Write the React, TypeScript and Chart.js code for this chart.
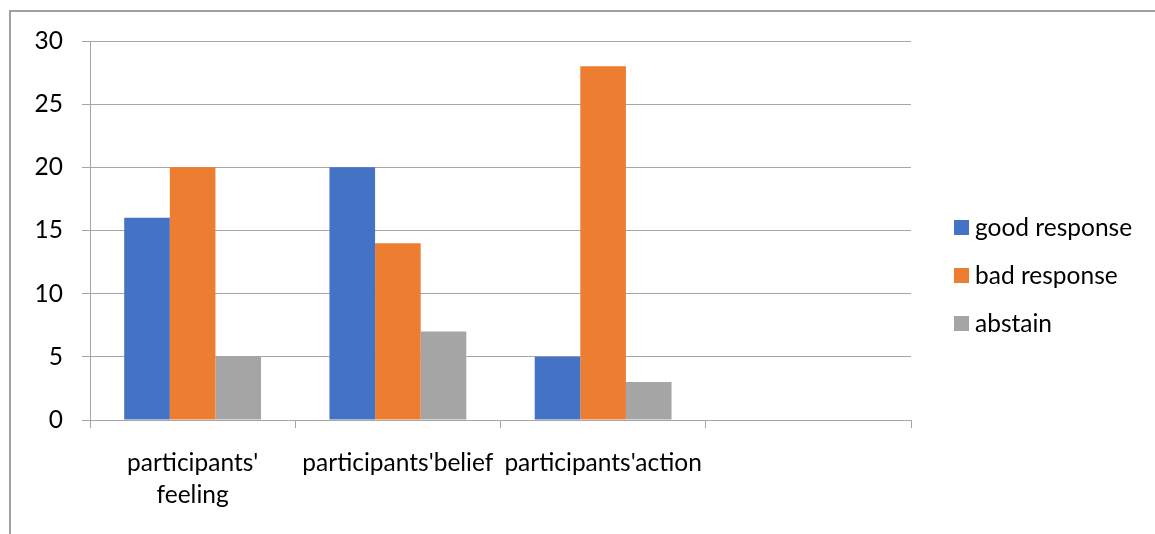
import React, { useEffect, useRef } from "react";
import { Chart, registerables } from "chart.js";

Chart.register(...registerables);

const categories: (string | string[])[] = [["participants'", "feeling"], "participants'belief", "participants'action", ""];
const goodResponse = [16, 20, 5, null];
const badResponse = [20, 14, 28, null];
const abstain = [5, 7, 3, null];
const seriesLabels = ["good response", "bad response", "abstain"];
const seriesColors = ["#4472C4", "#ED7D31", "#A5A5A5"];
const yTicks = [0, 5, 10, 15, 20, 25, 30];

const FONT = "Lato";
const FS = 24.5;
const GRID = "#a6a6a6";

const legendPlugin = {
  id: "sideLegend",
  afterDraw(chart: any) {
    const ctx = chart.ctx;
    const ds = chart.data.datasets;
    ctx.save();
    ctx.font = `${FS}px ${FONT}`;
    ctx.textBaseline = "middle";
    ctx.textAlign = "left";
    const x0 = chart.chartArea.right + 43;
    const yMid = (chart.chartArea.top + chart.chartArea.bottom) / 2;
    const gap = 48;
    const startY = yMid - gap * (ds.length - 1) / 2 + 45;
    ds.forEach((d: any, i: number) => {
      const y = startY + i * gap;
      ctx.fillStyle = d.backgroundColor;
      ctx.fillRect(x0, y - 7.5, 15, 15);
      ctx.fillStyle = "#000";
      ctx.fillText(d.label, x0 + 21, y + 1);
    });
    ctx.restore();
  },
};

export default function App() {
  const ref = useRef<HTMLCanvasElement | null>(null);
  useEffect(() => {
    if (!ref.current) return;
    const chart = new Chart(ref.current, {
      type: "bar",
      data: {
        labels: categories,
        datasets: [goodResponse, badResponse, abstain].map((data, i) => ({
          label: seriesLabels[i],
          data,
          backgroundColor: seriesColors[i],
          borderWidth: 0,
          categoryPercentage: 2 / 3,
          barPercentage: 1,
        })),
      },
      options: {
        animation: false,
        responsive: false,
        maintainAspectRatio: false,
        layout: { padding: { left: 0, top: 41, right: 244, bottom: 0 } },
        plugins: { legend: { display: false }, tooltip: { enabled: false } },
        scales: {
          x: {
            grid: { offset: true, drawOnChartArea: false, drawTicks: true, tickLength: 8, color: GRID, lineWidth: 1 },
            border: { display: true, color: GRID, width: 1 },
            ticks: { color: "#000", font: { family: FONT, size: FS, lineHeight: 32 / FS }, padding: 19, maxRotation: 0, autoSkip: false },
            afterFit(scale: any) { scale.height = 114; },
          },
          y: {
            min: 0,
            max: 30,
            afterBuildTicks(scale: any) { scale.ticks = yTicks.map((v) => ({ value: v })); },
            grid: { color: GRID, lineWidth: 1, tickLength: 8, drawTicks: true },
            border: { display: true, color: GRID, width: 1 },
            ticks: { color: "#000", font: { family: FONT, size: FS }, padding: 19 },
            afterFit(scale: any) { scale.width = 90; },
          },
        },
      },
      plugins: [legendPlugin],
    });
    return () => chart.destroy();
  }, []);
  return (
    <div style={{ position: "fixed", left: 0, top: 0, width: 1155, height: 534, background: "#fff", overflow: "hidden" }}>
      <div style={{ position: "absolute", left: 9, top: 10, width: 1200, height: 600, borderTop: "2px solid #a0a0a0", borderLeft: "2px solid #a0a0a0" }} />
      <canvas ref={ref} width={1155} height={534} style={{ position: "absolute", left: 0, top: 0 }} />
    </div>
  );
}
